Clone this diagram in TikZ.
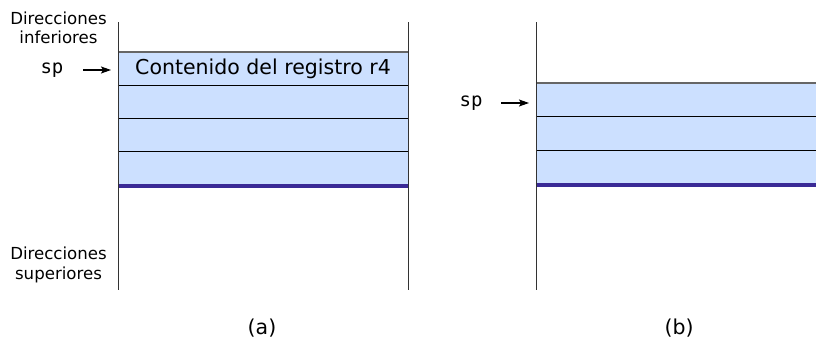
\documentclass[tikz,border=0pt]{standalone}
\usepackage{fontspec}
\setmainfont{DejaVu Sans}
\setmonofont{DejaVu Sans Mono}
\usetikzlibrary{arrows.meta}
\definecolor{cellblue}{HTML}{CCE0FF}
\definecolor{basepurple}{HTML}{3A2A96}
\definecolor{topgray}{HTML}{666666}
\tikzset{
  lbl/.style={font=\fontsize{16.6}{19.5}\selectfont, inner sep=0pt},
  biglbl/.style={font=\fontsize{20.5}{24}\selectfont, inner sep=0pt},
  splbl/.style={font=\ttfamily\fontsize{19}{22}\selectfont, inner sep=0pt},
  cell/.style={fill=cellblue, draw=none, inner sep=0pt, minimum height=#1},
  wall/.style={line width=1pt, black!80},
  sepline/.style={line width=1pt, black},
  topline/.style={line width=1.4pt, topgray},
  baseline/.style={line width=4pt, basepurple},
  sparrow/.style={-{Stealth[length=10pt,width=7pt,inset=2pt]}, line width=1.1pt}
}
\begin{document}
\begin{tikzpicture}[x=1pt,y=-1pt]
\useasboundingbox (0,0) rectangle (816,340);
% ---- panel (a) ----
\node[cell=34, minimum width=290, biglbl] (a1) at (263,69) {Contenido del registro r4};
\node[cell=33, minimum width=290] (a2) at (263,102.5) {};
\node[cell=33, minimum width=290] (a3) at (263,135.5) {};
\node[cell=34, minimum width=290] (a4) at (263,169) {};
\draw[topline] (a1.north west) -- (a1.north east);
\draw[sepline] (a2.north west) -- (a2.north east);
\draw[sepline] (a3.north west) -- (a3.north east);
\draw[sepline] (a4.north west) -- (a4.north east);
\draw[baseline] (a4.south west) -- (a4.south east);
\coordinate (awl) at (118,22);
\coordinate (awl2) at (118,290);
\coordinate (awr) at (408,22);
\coordinate (awr2) at (408,290);
\draw[wall] (awl) -- (awl2);
\draw[wall] (awr) -- (awr2);
\node[splbl] (spa) at (52,70) {sp};
\coordinate (spastart) at (83,70);
\coordinate (spaend) at (111,70);
\draw[sparrow] (spastart) -- (spaend);
\node[lbl, align=center] (inf) at (58.5,28) {Direcciones\\inferiores};
\node[lbl, align=center] (sup) at (58.5,265) {Direcciones\\superiores};
\node[biglbl] (capa) at (262,328) {(a)};
% ---- panel (b) ----
\node[cell=34, minimum width=280] (b1) at (676,100) {};
\node[cell=34, minimum width=280] (b2) at (676,134) {};
\node[cell=34, minimum width=280] (b3) at (676,168) {};
\draw[topline] (b1.north west) -- (b1.north east);
\draw[sepline] (b2.north west) -- (b2.north east);
\draw[sepline] (b3.north west) -- (b3.north east);
\draw[baseline] (b3.south west) -- (b3.south east);
\coordinate (bwl) at (536,22);
\coordinate (bwl2) at (536,290);
\draw[wall] (bwl) -- (bwl2);
\node[splbl] (spb) at (471,103) {sp};
\coordinate (spbstart) at (501,103);
\coordinate (spbend) at (529,103);
\draw[sparrow] (spbstart) -- (spbend);
\node[biglbl] (capb) at (679,328) {(b)};
\end{tikzpicture}
\end{document}
